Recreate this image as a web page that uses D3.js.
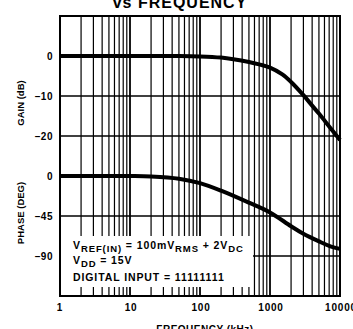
<!DOCTYPE html>
<html><head><meta charset="utf-8">
<script src="https://cdn.jsdelivr.net/npm/d3@7"></script>
<style>
html,body{margin:0;padding:0;background:#fff;}
svg{display:block;font-family:"Liberation Sans",Arial,sans-serif;font-weight:bold;}
</style></head>
<body>
<svg id="c" width="353" height="329"></svg>
<script>
// Data
const freqs      = [1, 10, 50, 100, 200, 300, 500, 700, 1000, 1500, 2000, 3000, 4000, 5000, 7000, 10000];
const gainDb     = [0, 0, 0, -0.1, -0.4, -0.8, -1.5, -2.1, -2.9, -4.6, -6.5, -9.8, -12.4, -14.4, -17.6, -21];
const phaseFreqs = [1, 10, 20, 50, 100, 200, 500, 1000, 2000, 3000, 5000, 7000, 10000];
const phaseDeg   = [0, 0, -0.5, -3, -8, -16.5, -30, -41, -56.5, -65, -73.5, -78.5, -82];
const xTicks     = [1, 10, 100, 1000, 10000];
const gainTicks  = [0, -10, -20];
const phaseTicks = [0, -45, -90];
const annot = [
  [["V",""],["REF(IN)","sub"],[" = 100mV",""],["RMS","sub"],[" + 2V",""],["DC","sub"]],
  [["V",""],["DD","sub"],[" = 15V",""]],
  [["DIGITAL INPUT = 11111111",""]]
];

const svg = d3.select("#c");
const L = 60, R = 340, T = 16, B = 296;
const x = d3.scaleLog().domain([1, 10000]).range([L, R]);
const yG = d3.scaleLinear().domain([10, -30]).range([T, 176]);
const yP = d3.scaleLinear().domain([0, -135]).range([176, B]);

// vertical grid
const vlines = [];
for (let k = 0; k < 4; k++) for (let m = 1; m <= 9; m++) vlines.push(m * Math.pow(10, k));
svg.append("g").selectAll("line").data(vlines).join("line")
  .attr("x1", d => x(d)).attr("x2", d => x(d))
  .attr("y1", T).attr("y2", B)
  .attr("stroke", "#000")
  .attr("stroke-width", d => (Math.abs(Math.log10(d) % 1) < 1e-9) ? 1.8 : 1.2);

// horizontal grid
svg.append("g").selectAll("line").data(gainTicks.slice(1)).join("line")
  .attr("x1", L).attr("x2", R).attr("y1", d => yG(d)).attr("y2", d => yG(d))
  .attr("stroke", "#000").attr("stroke-width", 1.4);
svg.append("g").selectAll("line").data(phaseTicks.slice(1)).join("line")
  .attr("x1", L).attr("x2", R).attr("y1", d => yP(d)).attr("y2", d => yP(d))
  .attr("stroke", "#000").attr("stroke-width", 1.4);

// annotation white box
svg.append("rect").attr("x", L + 1).attr("y", 236).attr("width", 192).attr("height", 51).attr("fill", "#fff");

// frame
svg.append("rect").attr("x", L).attr("y", T).attr("width", R - L).attr("height", B - T)
  .attr("fill", "none").attr("stroke", "#000").attr("stroke-width", 2);

// curves
const lineG = d3.line().x((d, i) => x(freqs[i])).y(d => yG(d)).curve(d3.curveCatmullRom.alpha(0.5));
const lineP = d3.line().x((d, i) => x(phaseFreqs[i])).y(d => yP(d)).curve(d3.curveCatmullRom.alpha(0.5));
svg.append("path").attr("d", lineG(gainDb)).attr("fill", "none").attr("stroke", "#000").attr("stroke-width", 4);
svg.append("path").attr("d", lineP(phaseDeg)).attr("fill", "none").attr("stroke", "#000").attr("stroke-width", 4);

// y tick labels
svg.append("g").selectAll("text").data(gainTicks).join("text")
  .attr("x", 53).attr("y", d => yG(d)).attr("dy", "0.35em").attr("text-anchor", "end")
  .attr("font-size", 10).attr("letter-spacing", 0.5).text(d => d === 0 ? "0" : "\u2013" + Math.abs(d));
svg.append("g").selectAll("text").data(phaseTicks).join("text")
  .attr("x", 53).attr("y", d => yP(d)).attr("dy", "0.35em").attr("text-anchor", "end")
  .attr("font-size", 10).attr("letter-spacing", 0.5).text(d => d === 0 ? "0" : "\u2013" + Math.abs(d));

// x tick labels
svg.append("g").selectAll("text").data(xTicks).join("text")
  .attr("x", d => x(d) + (d === 1 ? 0 : 1)).attr("y", 311).attr("text-anchor", "middle")
  .attr("font-size", 10).attr("letter-spacing", 0.8).text(d => String(d));

// axis titles
svg.append("text").attr("transform", "translate(24,103) rotate(-90)").attr("text-anchor", "middle")
  .attr("font-size", 9.5).text("GAIN (dB)");
svg.append("text").attr("transform", "translate(24,213) rotate(-90)").attr("text-anchor", "middle")
  .attr("font-size", 9.5).text("PHASE (DEG)");
svg.append("text").attr("x", 205).attr("y", 333).attr("text-anchor", "middle")
  .attr("font-size", 10).attr("letter-spacing", 0.5).text("FREQUENCY (kHz)");
svg.append("text").attr("x", 180).attr("y", 8).attr("text-anchor", "middle")
  .attr("font-size", 16).attr("letter-spacing", 1).text("vs FREQUENCY");

// annotation
const ay = [249, 264, 281];
annot.forEach((parts, i) => {
  const t = svg.append("text").attr("x", 73).attr("y", ay[i]).attr("font-size", 10.5).attr("letter-spacing", 0.9);
  parts.forEach(([s, kind]) => {
    const ts = t.append("tspan").text(s);
    if (kind === "sub") ts.attr("baseline-shift", "-30%").attr("font-size", 9.5);
  });
});
</script>
</body></html>
